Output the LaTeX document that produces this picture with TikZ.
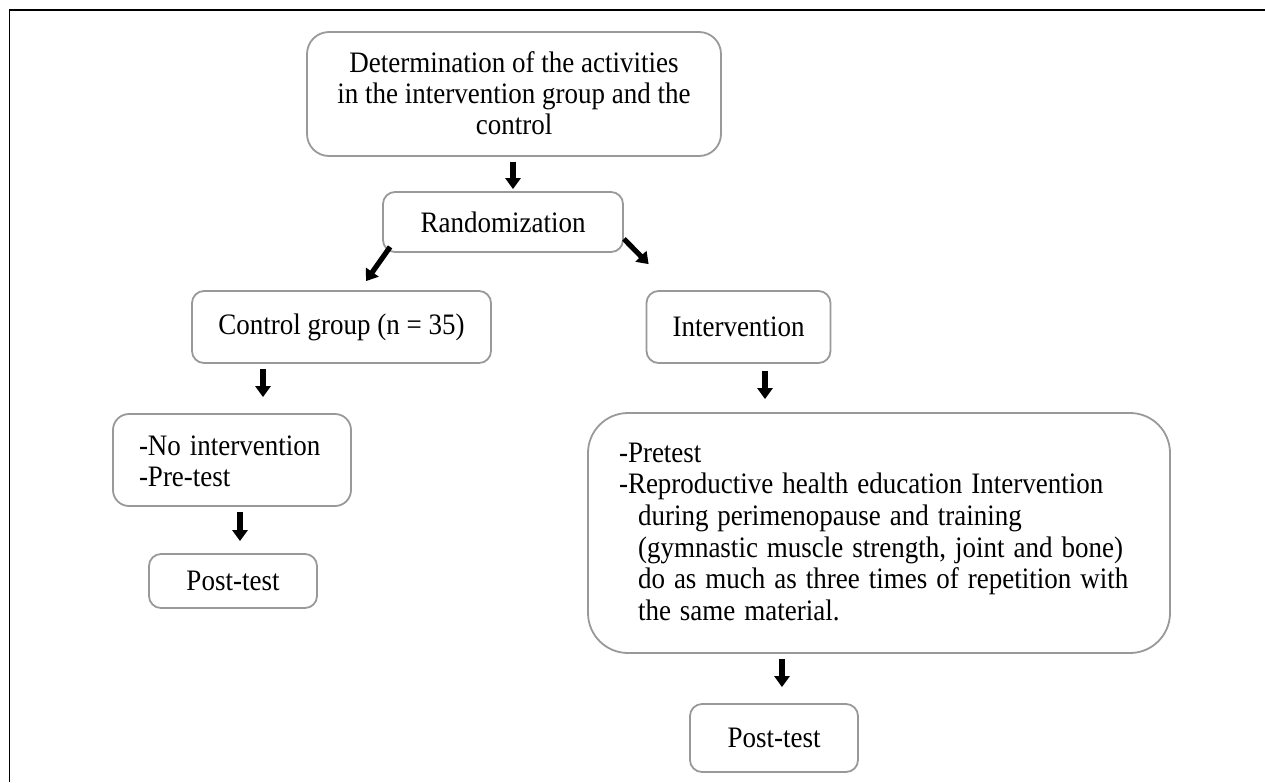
\documentclass[tikz,border=0pt]{standalone}
\usepackage{fontspec}
\usepackage{graphicx}
\setmainfont{Liberation Serif}
\usetikzlibrary{arrows.meta,calc}
\newcommand{\vst}[1]{\scalebox{1}[1.1]{#1}}
\newcommand{\vtab}[3]{\raisebox{#1}[\height][\depth]{\scalebox{1}[1.1]{\begin{tabular}{@{}#2@{}}#3\end{tabular}}}}
\begin{document}
\begin{tikzpicture}[x=1pt,y=-1pt,
  box/.style={draw=black!40, line width=1.8pt, rounded corners=12pt, inner sep=0pt,
    font=\fontsize{27}{28.3}\selectfont, text=black},
  arr/.style={line width=5.2pt, -{Triangle[width=15pt,length=11pt]}, black}]
\useasboundingbox (0,0) rectangle (1265,782);
\draw[line width=1.5pt] (9.5,782) -- (9.5,10) -- (1265,10);
\node[box, rounded corners=22pt, minimum width=414pt, minimum height=124pt]
  (top) at (514,94) {\vtab{-3pt}{c}{Determination of the activities\\in the intervention group and the\\control}};
\node[box, minimum width=240pt, minimum height=60pt] (rand) at (503,222) {\vst{Randomization}};
\node[box, minimum width=299pt, minimum height=72pt] (ctrl) at (341.5,327) {\vst{Control group (n = 35)}};
\node[box, minimum width=184pt, minimum height=72pt] (interv) at (738.5,327) {\vst{Intervention}};
\node[box, rounded corners=16pt, minimum width=238pt, minimum height=92pt, text width=186pt, inner xsep=26pt, align=left]
  (noint) at (232,460) {\vtab{-5pt}{l}{-No intervention\\-Pre-test}};
\node[box, minimum width=168pt, minimum height=54pt] (post1) at (233,581) {\vst{Post-test}};
\node[box, rounded corners=40pt, minimum width=582pt, minimum height=240pt, text width=520pt, inner xsep=31pt, align=left,
  font=\fontsize{27}{28.7}\selectfont]
  (big) at (879,533) {\vtab{-2pt}{l}{-Pretest\\-Reproductive health education Intervention\\\hspace*{19pt}during perimenopause and training\\\hspace*{19pt}(gymnastic muscle strength, joint and bone)\\\hspace*{19pt}do as much as three times of repetition with\\\hspace*{19pt}the same material.}};
\node[box, minimum width=168pt, minimum height=68pt] (post2) at (774,738) {\vst{Post-test}};
\draw[arr] ($(top.south)+(-1,5)$) -- ($(rand.north)+(10,-2)$);
\draw[arr] ($(rand.south west)+(8,-6)$) -- ($(ctrl.north)+(24.5,-9)$);
\draw[arr] ($(rand.south east)+(0,-14)$) -- ($(interv.north west)+(3,-26)$);
\draw[arr] ($(ctrl.south)+(-78.5,5)$) -- ($(noint.north)+(31,-16)$);
\draw[arr] ($(noint.south)+(8,5)$) -- ($(post1.north)+(7,-12)$);
\draw[arr] ($(interv.south)+(26.5,7)$) -- ($(big.north)+(-114,-13)$);
\draw[arr] ($(big.south)+(-97,5)$) -- ($(post2.north)+(8,-16)$);
\end{tikzpicture}
\end{document}
